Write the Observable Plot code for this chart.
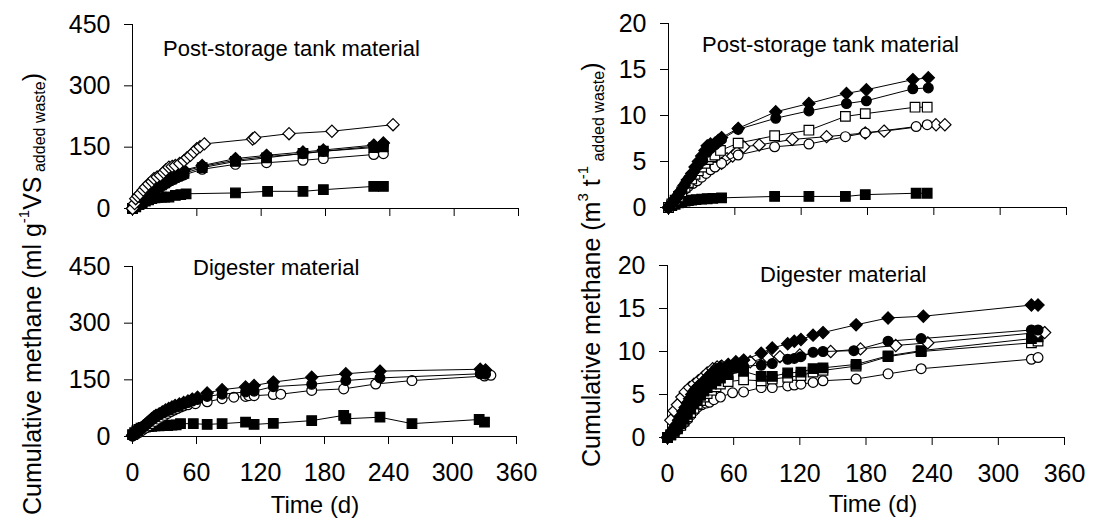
<!DOCTYPE html>
<html>
<head>
<meta charset="utf-8">
<script src="https://cdn.jsdelivr.net/npm/d3@7"></script>
<script src="https://cdn.jsdelivr.net/npm/@observablehq/plot@0.6"></script>
<style>
  html, body { margin: 0; padding: 0; background: #fff; }
  #wrap { position: relative; width: 1093px; height: 522px; overflow: hidden; font-family: "Liberation Sans", Arial, sans-serif; }
  #wrap > div, #wrap > svg { position: absolute; }
</style>
</head>
<body>
<div id="wrap"></div>
<script>
// ---------- tick values ----------
const xTicks = [0, 60, 120, 180, 240, 300, 360];
const yTicksLeft = [0, 150, 300, 450];
const yTicksRight = [0, 5, 10, 15, 20];

// ---------- Post-storage tank material, ml g-1 VS ----------
const tlFilledDiamond = [[0,0],[3,6],[6,14],[9,22],[12,30],[15,38],[18,46],[21,54],[24,60],[27,66],[30,72],[33,76],[36,80],[39,84],[42,88],[45,91],[48,94],[65,105],[96,122],[125,130],[159,138],[178,143],[225,155],[234,160]];
const tlFilledCircle = [[0,0],[3,5],[6,12],[9,20],[12,27],[15,35],[18,43],[21,50],[24,57],[27,63],[30,68],[33,73],[36,77],[39,81],[42,85],[45,88],[48,91],[65,103],[96,118],[125,127],[159,134],[178,140],[225,152],[234,156]];
const tlFilledSquareA = [[0,0],[3,4],[6,10],[9,17],[12,24],[15,31],[18,38],[21,45],[24,52],[27,58],[30,63],[33,68],[36,72],[39,76],[42,80],[45,83],[48,86],[65,100],[96,115],[125,124],[159,135],[178,140],[225,149],[234,151]];
const tlOpenCircle = [[0,0],[3,4],[6,10],[9,16],[12,22],[15,29],[18,36],[21,42],[24,48],[27,54],[30,59],[33,64],[36,68],[39,72],[42,76],[45,79],[48,82],[65,96],[96,108],[125,112],[159,118],[178,122],[225,132],[234,134]];
const tlOpenDiamond = [[0,0],[2,12],[3,24],[5,30],[7,36],[10,45],[12,52],[15,60],[18,66],[20,73],[23,77],[26,81],[29,88],[31,94],[34,101],[37,103],[40,105],[44,110],[48,117],[51,124],[54,130],[57,138],[60,146],[63,151],[67,158],[112,170],[114,173],[146,183],[186,189],[243,205]];
const tlFilledSquareB = [[0,0],[3,5],[6,10],[9,14],[12,18],[15,21],[18,24],[21,26],[24,27],[27,28],[30,28],[34,28],[40,32],[45,34],[50,36],[96,38],[126,42],[159,42],[178,46],[225,54],[234,54]];

// ---------- Post-storage tank material, m3 t-1 ----------
const trFilledDiamond = [[0,0],[3,0.4],[6,0.9],[9,1.4],[11,1.8],[14,2.4],[17,3.0],[21,3.7],[24,4.4],[27,5.0],[30,5.6],[33,6.2],[35,6.7],[38,6.9],[42,7.0],[45,7.3],[48,7.6],[63,8.6],[97,10.4],[127,11.3],[161,12.4],[179,12.8],[221,13.9],[235,14.1]];
const trFilledCircle = [[0,0],[3,0.4],[6,0.8],[9,1.3],[12,1.9],[15,2.5],[18,3.1],[21,3.5],[24,4.1],[27,4.6],[31,5.1],[35,6.0],[38,6.4],[42,6.8],[45,7.1],[48,7.4],[63,8.5],[97,9.7],[127,10.5],[161,11.3],[179,11.6],[221,12.9],[235,13.0]];
const trOpenSquare = [[0,0],[3,0.4],[6,0.8],[9,1.2],[12,1.7],[15,2.2],[18,2.7],[21,3.1],[24,3.6],[27,4.0],[30,4.4],[33,4.8],[36,5.2],[39,5.5],[42,5.7],[47,6.2],[63,7.0],[96,7.8],[127,8.4],[160,9.9],[178,10.2],[223,10.9],[234,10.9]];
const trOpenCircle = [[0,0],[3,0.4],[6,0.8],[9,1.2],[12,1.6],[15,2.0],[18,2.3],[22,2.6],[26,2.9],[30,3.3],[34,3.7],[38,4.1],[42,4.4],[48,4.8],[63,5.7],[96,6.6],[127,6.9],[160,7.7],[178,8.1],[224,8.8],[234,9.0]];
const trOpenDiamond = [[0,0],[2,0.3],[4,0.7],[7,1.1],[10,1.5],[13,1.9],[16,2.3],[19,2.6],[22,3.0],[25,3.3],[28,3.6],[32,3.9],[36,4.2],[40,4.5],[44,4.6],[48,4.8],[53,5.3],[58,5.6],[62,6.0],[68,6.6],[82,6.8],[112,7.4],[143,7.7],[178,8.1],[195,8.3],[242,9.0],[250,9.0]];
const trFilledSquare = [[0,0],[3,0.2],[6,0.35],[9,0.5],[12,0.6],[15,0.7],[18,0.75],[21,0.8],[25,0.85],[30,0.9],[35,0.95],[40,1.0],[48,1.05],[96,1.2],[127,1.2],[160,1.2],[178,1.4],[224,1.55],[234,1.55]];

// ---------- Digester material, ml g-1 VS ----------
const blFilledDiamond = [[0,3],[2,8],[4,12],[6,17],[8,22],[10,27],[12,32],[14,37],[16,42],[18,47],[20,52],[22,56],[25,60],[28,65],[31,70],[34,74],[37,78],[40,82],[44,86],[48,90],[52,94],[56,99],[61,104],[70,115],[84,124],[106,131],[114,135],[132,144],[168,157],[200,166],[232,173],[326,178],[331,176]];
const blFilledCircle = [[0,2],[2,6],[4,10],[6,14],[8,19],[10,24],[12,29],[14,34],[16,39],[18,44],[20,48],[22,52],[25,57],[28,62],[31,66],[34,70],[37,74],[40,78],[44,82],[48,86],[52,90],[56,94],[61,98],[70,106],[84,112],[106,118],[114,120],[132,132],[168,138],[200,148],[232,155],[326,166],[331,165]];
const blOpenCircle = [[0,1],[3,5],[6,10],[9,16],[12,22],[15,28],[18,34],[21,40],[24,46],[27,51],[30,56],[33,61],[36,66],[39,70],[42,74],[45,78],[48,81],[52,84],[59,87],[70,92],[84,100],[95,104],[106,106],[109,108],[114,108],[132,111],[139,112],[168,122],[198,126],[228,139],[262,148],[330,160],[336,162]];
const blFilledSquare = [[0,5],[2,10],[4,15],[6,19],[8,22],[10,24],[12,25],[15,26],[18,27],[21,28],[25,28],[29,29],[33,29],[37,30],[41,31],[45,34],[57,34],[70,32],[84,34],[106,38],[114,32],[132,35],[168,42],[198,56],[200,47],[232,51],[262,34],[325,45],[330,38]];

// ---------- Digester material, m3 t-1 ----------
const brFilledDiamond = [[0,0],[2,0.3],[4,0.7],[6,1.1],[8,1.5],[10,2.0],[12,2.5],[14,3.0],[16,3.5],[18,4.0],[20,4.5],[22,5.0],[24,5.4],[26,5.7],[28,6.0],[31,6.3],[34,6.7],[37,7.1],[40,7.5],[44,7.9],[48,8.2],[55,8.5],[62,8.8],[69,9.0],[85,9.8],[95,10.4],[109,10.9],[115,11.2],[121,11.4],[132,11.9],[141,12.2],[171,13.1],[200,13.9],[232,14.1],[330,15.4],[336,15.4]];
const brFilledCircle = [[0,0],[2,0.3],[4,0.6],[6,1.0],[8,1.4],[10,1.8],[12,2.3],[14,2.8],[16,3.3],[18,3.8],[20,4.3],[22,4.8],[24,5.2],[26,5.5],[28,5.8],[31,6.1],[34,6.4],[37,6.8],[40,7.1],[44,7.4],[48,7.6],[55,7.9],[62,8.1],[69,8.3],[85,8.4],[95,8.6],[109,9.1],[115,9.2],[121,9.4],[132,9.9],[141,10.0],[169,10.1],[200,11.2],[230,11.5],[330,12.5],[336,12.5]];
const brOpenDiamond = [[0,0],[3,2.0],[6,3.1],[9,3.8],[13,4.7],[16,5.3],[20,5.8],[24,6.2],[28,6.6],[32,7.0],[36,7.5],[41,8.0],[45,8.2],[49,8.3],[62,8.6],[75,8.8],[91,9.3],[102,9.4],[120,9.6],[148,10.0],[175,10.3],[207,10.7],[236,11.0],[336,12.2],[342,12.2]];
const brFilledSquare = [[0,0],[3,0.3],[6,0.7],[9,1.1],[12,1.6],[15,2.1],[18,2.7],[21,3.3],[24,3.9],[27,4.4],[30,4.9],[33,5.4],[36,5.8],[40,6.2],[44,6.6],[48,6.9],[55,7.3],[69,7.7],[85,7.1],[95,7.1],[109,7.5],[121,7.6],[132,8.0],[141,8.1],[171,8.5],[200,9.5],[230,10.1],[330,11.5],[336,11.7]];
const brOpenSquare = [[0,0],[3,0.3],[6,0.6],[9,1.0],[12,1.4],[15,1.9],[18,2.4],[21,2.9],[24,3.4],[27,3.9],[30,4.3],[33,4.7],[36,5.1],[40,5.5],[44,5.9],[48,6.2],[55,6.5],[69,6.7],[85,6.6],[95,6.8],[109,7.0],[121,7.2],[132,7.6],[141,7.8],[171,8.3],[200,9.4],[230,10.0],[330,11.0],[336,11.2]];
const brOpenCircle = [[0,0],[3,0.3],[6,0.6],[9,0.9],[12,1.3],[15,1.7],[18,2.1],[21,2.6],[24,3.1],[27,3.5],[31,3.8],[35,4.0],[38,4.1],[42,4.4],[48,4.7],[59,5.2],[69,5.3],[85,5.8],[95,5.8],[109,6.0],[115,6.1],[121,6.2],[132,6.4],[141,6.6],[171,6.8],[200,7.4],[230,8.0],[330,9.1],[336,9.3]];

// ---------- marker styles ----------
const MK = {
  fd: {symbol: "diamond2", r: 5.5, filled: true},
  od: {symbol: "diamond2", r: 5.5, filled: false},
  fc: {symbol: "circle", r: 4.9, filled: true},
  oc: {symbol: "circle", r: 4.9, filled: false},
  fs: {symbol: "square2", r: 6.1, filled: true},
  os: {symbol: "square2", r: 6.1, filled: false}
};

const FONT = "'Liberation Sans', Arial, sans-serif";

function panel(opts) {
  const marks = [
    // tick marks only (labels drawn below with text marks on the same scales)
    Plot.axisY({ticks: opts.yTicks, tickSize: 8, tickFormat: () => "", label: null}),
    Plot.axisX({ticks: xTicks, tickSize: 8, tickFormat: () => "", label: null}),
    Plot.text(opts.yTicks, {y: (d) => d, text: (d) => String(d), frameAnchor: "left",
      textAnchor: "end", dx: -22, fontSize: 25, fill: "black"}),
    Plot.ruleY([0], {stroke: "black", strokeWidth: 1}),
    Plot.ruleX([0], {stroke: "black", strokeWidth: 1})
  ];
  if (opts.xLabels) {
    marks.push(Plot.text(xTicks, {x: (d) => d, text: (d) => String(d), frameAnchor: "bottom",
      lineAnchor: "top", dy: 27, fontSize: 25, fill: "black"}));
  }
  for (const s of opts.series) {
    const m = MK[s.kind];
    marks.push(Plot.line(s.data, {x: (d) => d[0], y: (d) => d[1], stroke: "black", strokeWidth: 1}));
    marks.push(Plot.dot(s.data, {x: (d) => d[0], y: (d) => d[1], symbol: m.symbol, r: m.r,
      fill: m.filled ? "black" : "white", stroke: "black", strokeWidth: 1.2}));
  }
  const svg = Plot.plot({
    width: opts.width, height: opts.height,
    marginLeft: opts.ml, marginRight: opts.mr, marginTop: opts.mt, marginBottom: opts.mb,
    x: {domain: [0, 360], label: null},
    y: {domain: opts.yDomain, label: null},
    style: {fontFamily: FONT, fontSize: "25px", color: "black", background: "transparent", overflow: "visible"},
    marks
  });
  const div = document.createElement("div");
  div.style.left = opts.left + "px";
  div.style.top = opts.top + "px";
  div.appendChild(svg);
  return div;
}

const wrap = document.getElementById("wrap");

wrap.appendChild(panel({left: 0, top: 0, width: 545, height: 235, ml: 132, mr: 27, mt: 24, mb: 27,
  yDomain: [0, 450], yTicks: yTicksLeft, xLabels: false,
  series: [
    {kind: "fs", data: tlFilledSquareB},
    {kind: "oc", data: tlOpenCircle},
    {kind: "fs", data: tlFilledSquareA},
    {kind: "fc", data: tlFilledCircle},
    {kind: "fd", data: tlFilledDiamond},
    {kind: "od", data: tlOpenDiamond}
  ]}));

wrap.appendChild(panel({left: 0, top: 240, width: 545, height: 282, ml: 132, mr: 29, mt: 26, mb: 86,
  yDomain: [0, 450], yTicks: yTicksLeft, xLabels: true,
  series: [
    {kind: "fs", data: blFilledSquare},
    {kind: "oc", data: blOpenCircle},
    {kind: "fc", data: blFilledCircle},
    {kind: "fd", data: blFilledDiamond}
  ]}));

wrap.appendChild(panel({left: 545, top: 0, width: 548, height: 235, ml: 123, mr: 27, mt: 23, mb: 28,
  yDomain: [0, 20], yTicks: yTicksRight, xLabels: false,
  series: [
    {kind: "fs", data: trFilledSquare},
    {kind: "od", data: trOpenDiamond},
    {kind: "oc", data: trOpenCircle},
    {kind: "os", data: trOpenSquare},
    {kind: "fc", data: trFilledCircle},
    {kind: "fd", data: trFilledDiamond}
  ]}));

wrap.appendChild(panel({left: 545, top: 240, width: 548, height: 282, ml: 122, mr: 29, mt: 25, mb: 85,
  yDomain: [0, 20], yTicks: yTicksRight, xLabels: true,
  series: [
    {kind: "oc", data: brOpenCircle},
    {kind: "os", data: brOpenSquare},
    {kind: "fs", data: brFilledSquare},
    {kind: "od", data: brOpenDiamond},
    {kind: "fc", data: brFilledCircle},
    {kind: "fd", data: brFilledDiamond}
  ]}));

// ---------- overlay text ----------
const NS = "http://www.w3.org/2000/svg";
const ov = document.createElementNS(NS, "svg");
ov.setAttribute("width", 1093);
ov.setAttribute("height", 522);
ov.style.left = "0px"; ov.style.top = "0px";
ov.style.fontFamily = FONT;
ov.style.pointerEvents = "none";
wrap.appendChild(ov);

function txt(x, y, size, anchor, content) {
  const t = document.createElementNS(NS, "text");
  t.setAttribute("x", x); t.setAttribute("y", y);
  t.setAttribute("font-size", size);
  t.setAttribute("text-anchor", anchor);
  t.setAttribute("fill", "black");
  t.textContent = content;
  ov.appendChild(t);
  return t;
}
txt(163, 56, 22, "start", "Post-storage tank material");
txt(702, 52, 22, "start", "Post-storage tank material");
txt(193, 275, 22, "start", "Digester material");
txt(760, 282, 22, "start", "Digester material");
txt(315, 513, 24, "middle", "Time (d)");
txt(873, 512, 24, "middle", "Time (d)");

function ylabel(tx, ty, parts) {
  const t = document.createElementNS(NS, "text");
  t.setAttribute("transform", `translate(${tx},${ty}) rotate(-90)`);
  t.setAttribute("font-size", 25);
  t.setAttribute("fill", "black");
  t.style.whiteSpace = "pre";
  for (const [s, size, dy] of parts) {
    const sp = document.createElementNS(NS, "tspan");
    sp.setAttribute("font-size", size);
    sp.setAttribute("dy", dy);
    sp.textContent = s;
    t.appendChild(sp);
  }
  ov.appendChild(t);
}
ylabel(41, 515, [["Cumulative methane (ml g", 25, 0], ["-1", 15, -12], ["VS", 25, 12], [" added waste", 16, 4], [")", 25, -4]]);
ylabel(600, 467, [["Cumulative methane (m", 25, 0], ["3", 15, -12], [" t", 25, 12], ["-1", 15, -12], [" added waste", 16, 16], [")", 25, -4]]);
</script>
</body>
</html>
